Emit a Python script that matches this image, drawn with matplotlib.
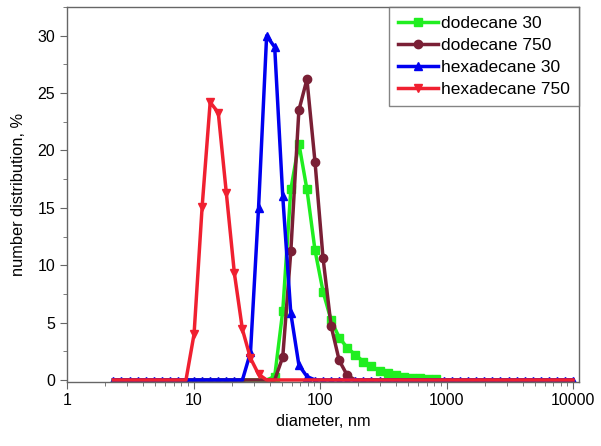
import matplotlib
matplotlib.use("Agg")
from matplotlib import pyplot as plt
from matplotlib.ticker import LogLocator, MultipleLocator, FixedLocator

plt.rcParams['font.family'] = ['Liberation Sans', 'DejaVu Sans']

# size bins (nm), log spaced as in the instrument output
diameter = [2.328, 2.696, 3.122, 3.615, 4.187, 4.849, 5.615, 6.503, 7.531, 8.721,
            10.1, 11.7, 13.54, 15.69, 18.17, 21.04, 24.36, 28.21, 32.67, 37.84,
            43.82, 50.75, 58.77, 68.06, 78.82, 91.28, 105.7, 122.4, 141.8, 164.2,
            190.1, 220.2, 255.0, 295.3, 342.0, 396.1, 458.7, 531.2, 615.1, 712.4,
            825.0, 955.4, 1106, 1281, 1484, 1718, 1990, 2305, 2669, 3091,
            3580, 4145, 4801, 5560, 6439, 7456, 8635, 10000]

# non-zero parts of each distribution, {diameter: %}
dodecane_30_peak = {43.82: 0.3, 50.75: 6.0, 58.77: 16.6, 68.06: 20.6, 78.82: 16.6,
                    91.28: 11.3, 105.7: 7.7, 122.4: 5.2, 141.8: 3.7, 164.2: 2.8,
                    190.1: 2.2, 220.2: 1.6, 255.0: 1.2, 295.3: 0.8, 342.0: 0.6,
                    396.1: 0.4, 458.7: 0.3, 531.2: 0.2, 615.1: 0.15, 712.4: 0.1,
                    825.0: 0.05}
dodecane_750_peak = {50.75: 2.0, 58.77: 11.2, 68.06: 23.5, 78.82: 26.2, 91.28: 19.0,
                     105.7: 10.6, 122.4: 4.7, 141.8: 1.7, 164.2: 0.4}
hexadecane_30_peak = {28.21: 2.4, 32.67: 15.0, 37.84: 30.0, 43.82: 29.0, 50.75: 16.0,
                      58.77: 5.8, 68.06: 1.3, 78.82: 0.3}
hexadecane_750_peak = {10.1: 4.0, 11.7: 15.1, 13.54: 24.2, 15.69: 23.3, 18.17: 16.3,
                       21.04: 9.3, 24.36: 4.4, 28.21: 1.9, 32.67: 0.5}

dodecane_30 = [dodecane_30_peak.get(d, 0.0) for d in diameter]
dodecane_750 = [dodecane_750_peak.get(d, 0.0) for d in diameter]
hexadecane_30 = [hexadecane_30_peak.get(d, 0.0) for d in diameter]
hexadecane_750 = [hexadecane_750_peak.get(d, 0.0) for d in diameter]

fig = plt.figure(figsize=(6.01, 4.46), dpi=100)
ax = fig.add_axes([0.1115, 0.1442, 0.8519, 0.8401])

series = [
    (dodecane_30, '#20ee20', 's', 'dodecane 30'),
    (dodecane_750, '#7a1f35', 'o', 'dodecane 750'),
    (hexadecane_30, '#0000f0', '^', 'hexadecane 30'),
    (hexadecane_750, '#f02030', 'v', 'hexadecane 750'),
]
for vals, col, mk, lab in series:
    # markers only where the distribution is non-zero, small ones on the baseline
    nz = [i for i, v in enumerate(vals) if v > 0]
    ax.plot(diameter, vals, color=col, marker=mk, ms=6, lw=2.5, markevery=nz, label=lab)

# small baseline markers of the blue series, visible above the red line
base = [i for i, v in enumerate(hexadecane_30) if v == 0]
ax.plot([diameter[i] for i in base], [hexadecane_30[i] for i in base], ls='none',
        marker='^', ms=4.5, color='#0000f0', zorder=1.9)

ax.set_xscale('log')
ax.set_xlim(1, 11150)
ax.set_ylim(-0.15, 32.5)
ax.xaxis.set_major_locator(FixedLocator([1, 10, 100, 1000, 10000]))
ax.set_xticklabels(['1', '10', '100', '1000', '10000'])
ax.xaxis.set_minor_locator(LogLocator(base=10, subs=range(2, 10)))
ax.yaxis.set_major_locator(MultipleLocator(5))
ax.yaxis.set_minor_locator(MultipleLocator(2.5))

for s in ax.spines.values():
    s.set_color('#666666')
    s.set_linewidth(1)
ax.tick_params(which='major', direction='out', length=5, color='#666666', labelsize=11.5)
ax.tick_params(which='minor', direction='out', length=3, color='#666666')

ax.set_xlabel('diameter, nm', fontsize=11.8)
ax.set_ylabel('number distribution, %', fontsize=11.8, labelpad=8)

leg = ax.legend(loc='upper right', borderaxespad=0, fontsize=12.5, handlelength=2.3,
                labelspacing=0.4, fancybox=False, handletextpad=0.2, borderpad=0.5)
leg.get_frame().set_edgecolor('#666666')
leg.get_frame().set_linewidth(1)

plt.savefig('out.png', dpi=100)
